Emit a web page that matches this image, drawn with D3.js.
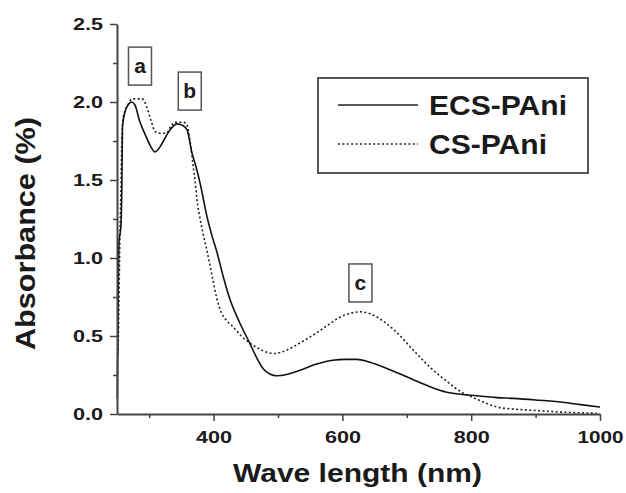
<!DOCTYPE html>
<html>
<head>
<meta charset="utf-8">
<script src="https://cdn.jsdelivr.net/npm/d3@7"></script>
<style>
  html, body { margin: 0; padding: 0; background: #fff; }
  svg { display: block; }
  text { font-family: "Liberation Sans", Arial, sans-serif; fill: #1a1a1a; }
</style>
</head>
<body>
<svg id="chart" width="626" height="493"></svg>
<script>
// ---- data ----
const ecsWave = [250.5,251.5,253,256,257.5,258.5,262,267,273,278,285,295,303,309,318,326,334,343,352,359,366,373,379,384,390,397,405,415,425,440,456,467,477,488,498,515,534,560,585,605,623,640,658,685,710,736,762,787,800,840,865,900,942,970,1000];
const ecsAbs  = [0.10,0.60,1.10,1.20,1.45,1.84,1.93,1.98,2.00,1.98,1.88,1.78,1.71,1.68,1.72,1.78,1.83,1.86,1.85,1.82,1.68,1.58,1.48,1.38,1.26,1.15,1.04,0.88,0.74,0.59,0.455,0.36,0.29,0.255,0.245,0.255,0.28,0.32,0.345,0.35,0.35,0.335,0.31,0.265,0.22,0.175,0.14,0.125,0.12,0.105,0.10,0.09,0.075,0.06,0.045];

const csWave = [251.5,252.5,254,256,257.5,259,263,268,273,289,296,303,309,318,327,333,340,352,358,363,368,371,374,379,384,390,398,405,412,420,430,443,456,470,483,495,508,521,534,547,560,570,581,596,612,627,645,665,685,710,736,762,787,800,820,840,870,891,920,950,995];
const csAbs  = [0.38,0.57,1.00,1.42,1.75,1.88,1.95,1.99,2.02,2.02,1.97,1.88,1.81,1.80,1.80,1.84,1.87,1.87,1.86,1.76,1.60,1.50,1.38,1.25,1.15,1.04,0.88,0.74,0.65,0.60,0.56,0.50,0.455,0.42,0.395,0.388,0.40,0.425,0.455,0.487,0.52,0.548,0.58,0.62,0.645,0.655,0.64,0.59,0.52,0.41,0.30,0.21,0.135,0.11,0.075,0.045,0.03,0.025,0.017,0.01,0.005];

const seriesNames = ["ECS-PAni", "CS-PAni"];
const xTicks = [400, 600, 800, 1000];
const xMinorTicks = [300, 500, 700, 900];
const yTicks = [0.0, 0.5, 1.0, 1.5, 2.0, 2.5];
const yMinorTicks = [0.25, 0.75, 1.25, 1.75, 2.25];
const peakLabels = ["a", "b", "c"];
const peakWave = [285.7, 363, 628];
const peakAbs = [2.23, 2.07, 0.84];
const xTitle = "Wave length (nm)";
const yTitle = "Absorbance (%)";

// ---- layout ----
const svg = d3.select("#chart");
const x = d3.scaleLinear().domain([250, 1000]).range([117, 600]);
const y = d3.scaleLinear().domain([0, 2.5]).range([414, 24]);
const axisColor = "#444";

// curves
const line = d3.line().x(d => x(d[0])).y(d => y(d[1])).curve(d3.curveMonotoneX);
const ecs = ecsWave.map((w, i) => [w, ecsAbs[i]]);
const cs = csWave.map((w, i) => [w, csAbs[i]]);

svg.append("path").datum(cs).attr("d", line)
  .attr("fill", "none").attr("stroke", "#222").attr("stroke-width", 1.6)
  .attr("stroke-dasharray", "2,2.4");
svg.append("path").datum(ecs).attr("d", line)
  .attr("fill", "none").attr("stroke", "#111").attr("stroke-width", 1.6);

// axes
function styleAxis(g) {
  g.select(".domain").attr("stroke", axisColor).attr("stroke-width", 2);
  g.selectAll(".tick line").attr("stroke", axisColor).attr("stroke-width", 1.5);
}
const xAxis = svg.append("g").attr("transform", "translate(0,414)")
  .call(d3.axisBottom(x).tickValues(xTicks).tickSize(7).tickSizeOuter(0).tickFormat(d3.format("d")));
styleAxis(xAxis);
xAxis.selectAll(".tick text").attr("dy", 0).attr("y", 29)
  .style("font-size", "16px").style("font-weight", "bold").style("font-family", "Liberation Sans, Arial").attr("fill", "#1a1a1a")
  .each(function(d) { d3.select(this).attr("textLength", d >= 1000 ? 46 : 36).attr("lengthAdjust", "spacingAndGlyphs"); });
svg.append("g").attr("transform", "translate(0,414)")
  .call(d3.axisBottom(x).tickValues(xMinorTicks).tickSize(4).tickFormat(""))
  .call(g => { g.select(".domain").remove(); g.selectAll(".tick line").attr("stroke", axisColor).attr("stroke-width", 1.5); });

const yAxis = svg.append("g").attr("transform", "translate(117,0)")
  .call(d3.axisLeft(y).tickValues(yTicks).tickSize(7).tickSizeOuter(0).tickFormat(d3.format(".1f")));
styleAxis(yAxis);
yAxis.selectAll(".tick text").attr("x", -14).attr("dy", "0.36em")
  .style("font-size", "16px").style("font-weight", "bold").style("font-family", "Liberation Sans, Arial").attr("fill", "#1a1a1a")
  .attr("textLength", 30).attr("lengthAdjust", "spacingAndGlyphs");
svg.append("g").attr("transform", "translate(117,0)")
  .call(d3.axisLeft(y).tickValues(yMinorTicks).tickSize(4).tickFormat(""))
  .call(g => { g.select(".domain").remove(); g.selectAll(".tick line").attr("stroke", axisColor).attr("stroke-width", 1.5); });

// axis titles
svg.append("text").attr("x", 357.5).attr("y", 482).attr("text-anchor", "middle")
  .style("font-size", "26px").style("font-weight", "bold")
  .attr("textLength", 249).attr("lengthAdjust", "spacingAndGlyphs").text(xTitle);
svg.append("text").attr("transform", "translate(35,233.5) rotate(-90)").attr("text-anchor", "middle")
  .style("font-size", "27px").style("font-weight", "bold")
  .attr("textLength", 233).attr("lengthAdjust", "spacingAndGlyphs").text(yTitle);

// peak labels
peakLabels.forEach((lab, i) => {
  const cx = x(peakWave[i]), cy = y(peakAbs[i]);
  svg.append("rect").attr("x", cx - 11.5).attr("y", cy - 19).attr("width", 23).attr("height", 38)
    .attr("fill", "#fff").attr("stroke", "#555").attr("stroke-width", 1.5);
  svg.append("text").attr("x", cx).attr("y", cy + 7).attr("text-anchor", "middle")
    .style("font-size", "21px").style("font-weight", "bold").text(lab);
});

// legend
const lg = svg.append("g");
lg.append("rect").attr("x", 318).attr("y", 78).attr("width", 270).attr("height", 95)
  .attr("fill", "#fff").attr("stroke", "#444").attr("stroke-width", 1.8);
const legendRows = [{y: 105, dash: null, base: 115, len: 138}, {y: 144, dash: "2,2.4", base: 154, len: 118}];
seriesNames.forEach((name, i) => {
  const r = legendRows[i];
  lg.append("line").attr("x1", 338).attr("x2", 418).attr("y1", r.y).attr("y2", r.y)
    .attr("stroke", "#222").attr("stroke-width", 1.6).attr("stroke-dasharray", r.dash);
  lg.append("text").attr("x", 429).attr("y", r.base)
    .style("font-size", "28px").style("font-weight", "bold")
    .attr("textLength", r.len).attr("lengthAdjust", "spacingAndGlyphs").text(name);
});
</script>
</body>
</html>
